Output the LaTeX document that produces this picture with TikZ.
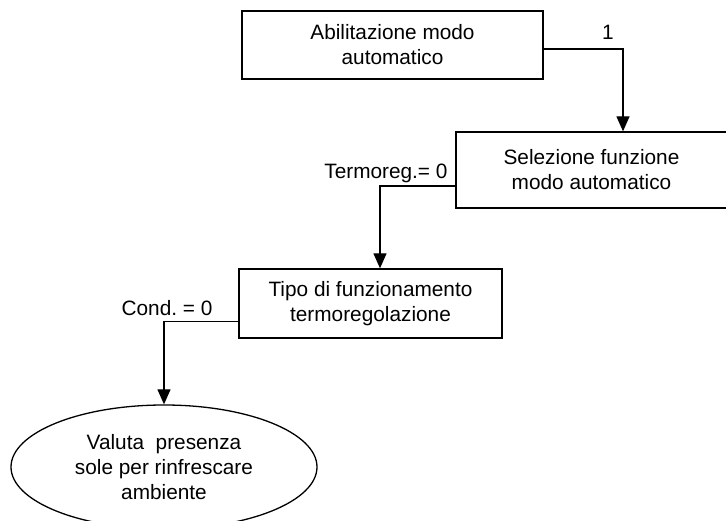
\documentclass[tikz,border=0pt]{standalone}
\usepackage{fontspec}
\setmainfont{Liberation Sans}
\usetikzlibrary{arrows.meta,shapes.geometric}
\frenchspacing

\begin{document}
\begin{tikzpicture}[x=1pt,y=-1pt]

    \tikzset{%
        testo/.style={font=\fontsize{20.8}{25}\selectfont},
        blocco/.style={draw, line width=1.3pt, rectangle, inner sep=0pt,
                align=center, testo},
        finale/.style={draw, line width=1.3pt, ellipse, inner sep=0pt,
                align=center, testo},
        freccia/.style={line width=1.3pt, -{Triangle[width=13pt,length=15pt]}},
    }

    \useasboundingbox (0,0) rectangle (726,521);

    \node [blocco, minimum width=301pt, minimum height=68pt] (abil) at (392.5,45) {Abilitazione modo\\automatico};
    \node [blocco, minimum width=271pt, minimum height=76pt] (sel) at (591.5,170) {Selezione funzione\\modo automatico};
    \node [blocco, minimum width=263pt, minimum height=69pt] (tipo) at (370.5,303.5) {Tipo di funzionamento\\termoregolazione};
    \node [finale, minimum width=306pt, minimum height=124pt] (valuta) at (164,467) {Valuta\ \ presenza\\sole per rinfrescare\\ambiente};

    % etichette delle uscite
    \node [testo] (uno) at (608,32) {1};
    \node [testo, anchor=east] (termo) at (451,173) {Termoreg.= 0};
    \node [testo] (cond) at (167,308) {Cond. = 0};

    \draw [freccia] ([yshift=-4pt]abil.east) -| ([xshift=31.5pt]sel.north);
    \draw [freccia] ([yshift=-16pt]sel.west) -| ([xshift=9.5pt]tipo.north);
    \draw [freccia] ([yshift=-18pt]tipo.west) -| (valuta.north);

\end{tikzpicture}
\end{document}
